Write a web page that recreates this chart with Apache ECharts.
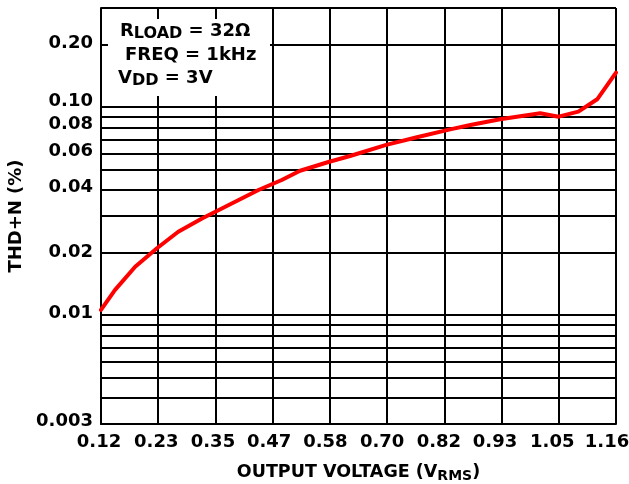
<!DOCTYPE html>
<html>
<head>
<meta charset="utf-8">
<script src="https://cdn.jsdelivr.net/npm/echarts@6/dist/echarts.min.js"></script>
<style>
html,body{margin:0;padding:0;background:#fff;}
#chart{width:629px;height:484px;}
</style>
</head>
<body>
<div id="chart"></div>
<script>
// Output voltage (V RMS)
const voltage = [0.12, 0.148, 0.189, 0.233, 0.276, 0.324, 0.391, 0.438, 0.485, 0.522, 0.581, 0.623, 0.696, 0.758, 0.825, 0.866, 0.926, 1.007, 1.044, 1.084, 1.122, 1.16];
// THD+N (%)
const thdn = [0.0106, 0.0132, 0.0171, 0.0210, 0.0252, 0.0292, 0.0351, 0.0400, 0.0447, 0.0495, 0.0547, 0.0583, 0.0659, 0.0717, 0.0783, 0.0821, 0.0875, 0.0935, 0.0901, 0.0952, 0.1092, 0.1466];

const xTickLabels = ['0.12', '0.23', '0.35', '0.47', '0.58', '0.70', '0.82', '0.93', '1.05', '1.16'];
const xMin = 0.12, xMax = 1.16;
const yMin = 0.003, yMax = 0.3;
const yGridValues = [0.003, 0.004, 0.005, 0.006, 0.007, 0.008, 0.009, 0.01, 0.02, 0.03, 0.04, 0.05, 0.06, 0.07, 0.08, 0.09, 0.1, 0.2, 0.3];
const yLabelValues = [0.003, 0.01, 0.02, 0.04, 0.06, 0.08, 0.1, 0.2];
const yLabelTexts = ['0.003', '0.01', '0.02', '0.04', '0.06', '0.08', '0.10', '0.20'];

// label placement styling (pixels): how far each label sits off its line in the original
const yLabelRaise = [6, 4, 0, 5, 5, 7, 12, 2];
const xLabelLeft = [2, 2, 2.5, 3.5, 4.5, 5, 5.5, 6.5, 6.5, 9];

const xTickValues = xTickLabels.map((_, i) => Math.round((xMin + i * (xMax - xMin) / (xTickLabels.length - 1)) * 1e6) / 1e6);

const FONT = 'DejaVu Sans';
const chart = echarts.init(document.getElementById('chart'), null, {renderer: 'canvas'});

function nearestIndex(arr, v, log) {
  let best = 0, bd = Infinity;
  arr.forEach((a, i) => {
    const d = log ? Math.abs(Math.log(a) - Math.log(v)) : Math.abs(a - v);
    if (d < bd) { bd = d; best = i; }
  });
  return best;
}

const labelFont = {fontFamily: FONT, fontWeight: 'bold', fontSize: 18, color: '#000'};
const yRich = {}, xRich = {};
yLabelRaise.forEach((r, i) => { yRich['r' + i] = Object.assign({padding: [0, 0, r, 0]}, labelFont); });
xLabelLeft.forEach((s, i) => { xRich['r' + i] = Object.assign({padding: [0, 2 * s, 0, 0]}, labelFont); });

const option = {
  backgroundColor: '#fff',
  animation: false,
  grid: {left: 101, right: 13, top: 8, bottom: 60, containLabel: false, outerBoundsMode: 'none'},
  xAxis: {
    type: 'value', min: xMin, max: xMax,
    name: '{m|OUTPUT VOLTAGE (V}{s|RMS}{m|)}',
    nameLocation: 'middle', nameGap: 39,
    nameTextStyle: {
      rich: {
        m: {fontFamily: FONT, fontWeight: 'bold', fontSize: 17.5, color: '#000', lineHeight: 20, verticalAlign: 'top'},
        s: {fontFamily: FONT, fontWeight: 'bold', fontSize: 14, color: '#000', lineHeight: 16, verticalAlign: 'bottom', padding: [7, 0, 0, 0]}
      }
    },
    axisLine: {show: true, lineStyle: {color: '#000', width: 2}},
    axisTick: {show: false, customValues: xTickValues},
    axisLabel: {
      customValues: xTickValues,
      showMaxLabel: true, showMinLabel: true, hideOverlap: false,
      margin: 9,
      formatter: v => {
        const i = nearestIndex(xTickValues, v, false);
        return '{r' + i + '|' + xTickLabels[i] + '}';
      },
      rich: xRich
    },
    splitLine: {show: true, lineStyle: {color: '#000', width: 2}}
  },
  yAxis: {
    type: 'log', logBase: 10, min: yMin, max: yMax,
    name: 'THD+N (%)', nameLocation: 'middle', nameGap: 75, nameRotate: 90,
    nameTextStyle: {fontFamily: FONT, fontWeight: 'bold', fontSize: 18, color: '#000'},
    axisLine: {show: true, lineStyle: {color: '#000', width: 2}},
    axisTick: {show: false, customValues: yGridValues},
    axisLabel: {
      customValues: yLabelValues,
      margin: 8,
      formatter: v => {
        const i = nearestIndex(yLabelValues, v, true);
        return '{r' + i + '|' + yLabelTexts[i] + '}';
      },
      rich: yRich
    },
    splitLine: {show: true, lineStyle: {color: '#000', width: 2}}
  },
  series: [{
    type: 'line',
    data: voltage.map((v, i) => [v, thdn[i]]),
    showSymbol: false,
    smooth: false,
    lineStyle: {color: '#ff0000', width: 4, join: 'round', cap: 'round'},
    z: 5
  }],
  graphic: [
    {type: 'rect', shape: {x: 108, y: 19, width: 162, height: 77}, style: {fill: '#fff'}, z: 100},
    {type: 'text', x: 120, y: 22, z: 101, style: {
      text: '{m|R}{s|LOAD}{m| = 32Ω}', verticalAlign: 'top',
      rich: {
        m: {fontFamily: FONT, fontWeight: 'bold', fontSize: 18, fill: '#000', lineHeight: 20, verticalAlign: 'top'},
        s: {fontFamily: FONT, fontWeight: 'bold', fontSize: 16, fill: '#000', lineHeight: 16, verticalAlign: 'bottom', padding: [8, 0, 0, 0]}
      }}},
    {type: 'text', x: 125, y: 55, z: 101, style: {
      text: 'FREQ = 1kHz', verticalAlign: 'middle',
      fontFamily: FONT, fontWeight: 'bold', fontSize: 18, fill: '#000'}},
    {type: 'text', x: 118, y: 69, z: 101, style: {
      text: '{m|V}{s|DD}{m| = 3V}', verticalAlign: 'top',
      rich: {
        m: {fontFamily: FONT, fontWeight: 'bold', fontSize: 18, fill: '#000', lineHeight: 20, verticalAlign: 'top'},
        s: {fontFamily: FONT, fontWeight: 'bold', fontSize: 16, fill: '#000', lineHeight: 16, verticalAlign: 'bottom', padding: [8, 0, 0, 0]}
      }}}
  ]
};
chart.setOption(option);
</script>
</body>
</html>
